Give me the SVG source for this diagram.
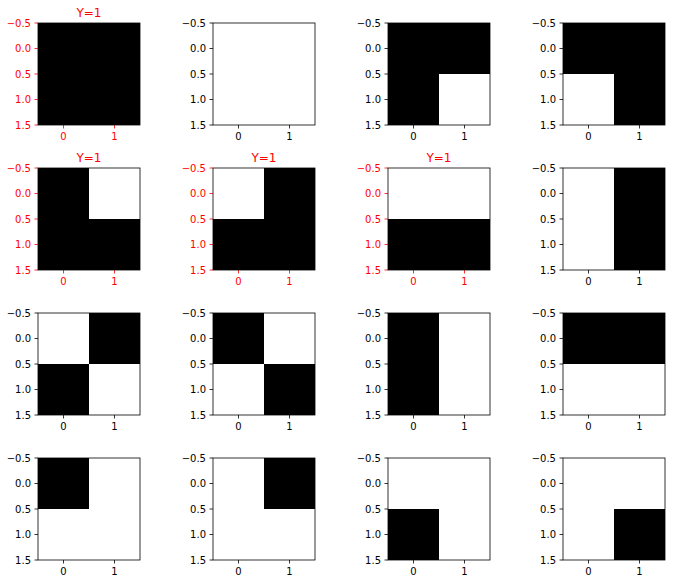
<svg xmlns="http://www.w3.org/2000/svg" xmlns:xlink="http://www.w3.org/1999/xlink" width="674" height="584" viewBox="0 0 674 584">
<style>
.lbl{font-family:"DejaVu Sans","Liberation Sans",sans-serif;font-size:10px;fill:currentColor}
.ttl{font-family:"DejaVu Sans","Liberation Sans",sans-serif;font-size:12px;fill:#ff0000;text-anchor:middle}
.tk{stroke:currentColor;stroke-width:0.8}
.sp{fill:none;stroke:#000;stroke-width:0.8}
.bk{fill:#000}
.red{color:#ff0000}
.blk{color:#000}
</style>
<defs>
<g id="deco">
<path class="tk" d="M0,0H-3.5M0,25.5H-3.5M0,51H-3.5M0,76.5H-3.5M0,102H-3.5M25.5,102V105.5M76.5,102V105.5"/>
<g class="lbl" text-anchor="end">
<text x="-7" y="3.6">−0.5</text>
<text x="-7" y="29.1">0.0</text>
<text x="-7" y="54.6">0.5</text>
<text x="-7" y="80.1">1.0</text>
<text x="-7" y="105.6">1.5</text>
</g>
<g class="lbl" text-anchor="middle">
<text x="25.5" y="117">0</text>
<text x="76.5" y="117">1</text>
</g>
</g>
</defs>
<rect width="674" height="584" fill="#fff"/>

<g id="p1" transform="translate(38,23)">
<rect class="bk" x="0" y="0" width="102" height="102"/>
<use xlink:href="#deco" class="red"/>
<rect class="sp" width="102" height="102"/>
<text class="ttl" x="51" y="-6.5">Y=1</text>
</g>
<g id="p2" transform="translate(213,23)">
<use xlink:href="#deco" class="blk"/>
<rect class="sp" width="102" height="102"/>
</g>
<g id="p3" transform="translate(388,23)">
<rect class="bk" x="0" y="0" width="102" height="51"/>
<rect class="bk" x="0" y="51" width="51" height="51"/>
<use xlink:href="#deco" class="blk"/>
<rect class="sp" width="102" height="102"/>
</g>
<g id="p4" transform="translate(563,23)">
<rect class="bk" x="0" y="0" width="102" height="51"/>
<rect class="bk" x="51" y="51" width="51" height="51"/>
<use xlink:href="#deco" class="blk"/>
<rect class="sp" width="102" height="102"/>
</g>

<g id="p5" transform="translate(38,168)">
<rect class="bk" x="0" y="0" width="51" height="102"/>
<rect class="bk" x="51" y="51" width="51" height="51"/>
<use xlink:href="#deco" class="red"/>
<rect class="sp" width="102" height="102"/>
<text class="ttl" x="51" y="-6.5">Y=1</text>
</g>
<g id="p6" transform="translate(213,168)">
<rect class="bk" x="51" y="0" width="51" height="102"/>
<rect class="bk" x="0" y="51" width="51" height="51"/>
<use xlink:href="#deco" class="red"/>
<rect class="sp" width="102" height="102"/>
<text class="ttl" x="51" y="-6.5">Y=1</text>
</g>
<g id="p7" transform="translate(388,168)">
<rect class="bk" x="0" y="51" width="102" height="51"/>
<use xlink:href="#deco" class="red"/>
<rect class="sp" width="102" height="102"/>
<text class="ttl" x="51" y="-6.5">Y=1</text>
</g>
<g id="p8" transform="translate(563,168)">
<rect class="bk" x="51" y="0" width="51" height="102"/>
<use xlink:href="#deco" class="blk"/>
<rect class="sp" width="102" height="102"/>
</g>

<g id="p9" transform="translate(38,313)">
<rect class="bk" x="51" y="0" width="51" height="51"/>
<rect class="bk" x="0" y="51" width="51" height="51"/>
<use xlink:href="#deco" class="blk"/>
<rect class="sp" width="102" height="102"/>
</g>
<g id="p10" transform="translate(213,313)">
<rect class="bk" x="0" y="0" width="51" height="51"/>
<rect class="bk" x="51" y="51" width="51" height="51"/>
<use xlink:href="#deco" class="blk"/>
<rect class="sp" width="102" height="102"/>
</g>
<g id="p11" transform="translate(388,313)">
<rect class="bk" x="0" y="0" width="51" height="102"/>
<use xlink:href="#deco" class="blk"/>
<rect class="sp" width="102" height="102"/>
</g>
<g id="p12" transform="translate(563,313)">
<rect class="bk" x="0" y="0" width="102" height="51"/>
<use xlink:href="#deco" class="blk"/>
<rect class="sp" width="102" height="102"/>
</g>

<g id="p13" transform="translate(38,458)">
<rect class="bk" x="0" y="0" width="51" height="51"/>
<use xlink:href="#deco" class="blk"/>
<rect class="sp" width="102" height="102"/>
</g>
<g id="p14" transform="translate(213,458)">
<rect class="bk" x="51" y="0" width="51" height="51"/>
<use xlink:href="#deco" class="blk"/>
<rect class="sp" width="102" height="102"/>
</g>
<g id="p15" transform="translate(388,458)">
<rect class="bk" x="0" y="51" width="51" height="51"/>
<use xlink:href="#deco" class="blk"/>
<rect class="sp" width="102" height="102"/>
</g>
<g id="p16" transform="translate(563,458)">
<rect class="bk" x="51" y="51" width="51" height="51"/>
<use xlink:href="#deco" class="blk"/>
<rect class="sp" width="102" height="102"/>
</g>
<g id="connectors"/>
</svg>
